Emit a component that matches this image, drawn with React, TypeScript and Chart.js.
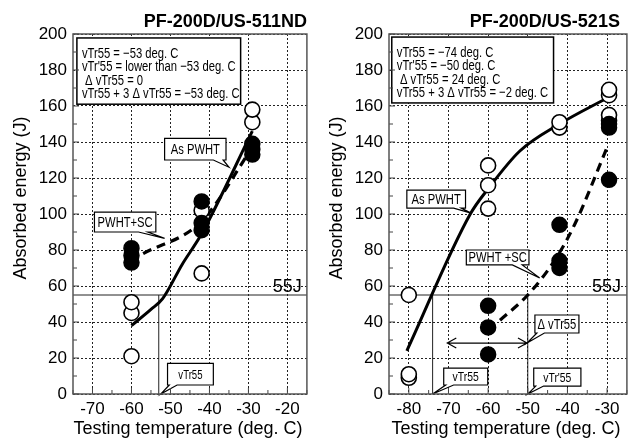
import React, { useEffect, useRef } from "react";
import { Chart, registerables } from "chart.js";

Chart.register(...registerables);

const FONT = '"Liberation Sans", Arial, Helvetica, sans-serif';

// ---------- shared axis values ----------
const yTicks = [0, 20, 40, 60, 80, 100, 120, 140, 160, 180, 200];
const yRange = [0, 200];
const criterionEnergy = 55;

// ---------- Left panel: PF-200D/US-511ND ----------
const leftTitle = "PF-200D/US-511ND";
const leftXRange = [-75, -15];
const leftXTicks = [-70, -60, -50, -40, -30, -20];
const leftOpenT = [-60, -60, -60, -42, -42, -29, -29];
const leftOpenE = [21, 45, 51, 67, 102, 151, 158];
const leftFilledT = [-60, -60, -60, -42, -42, -42, -29, -29, -29];
const leftFilledE = [73, 77, 81, 91, 95, 107, 133, 136, 139];
const leftSolidT = [-60, -55, -52, -47, -42, -29];
const leftSolidE = [38, 47, 53, 72, 89, 146];
const leftDashT = [-57, -42, -29];
const leftDashE = [78, 96, 137];
const leftVTr = [-53];
const leftInfo = [
  "vTr55 = \u221253 deg. C",
  "vTr'55 = lower than \u221253 deg. C",
  " \u0394 vTr55 = 0",
  "vTr55 + 3 \u0394 vTr55 = \u221253 deg. C",
];
// annotation anchors in data units (temperature, energy)
const leftInfoBox = [-74, -32, 197.8, 161];
const leftCallouts = [
  { text: "As PWHT", box: [-51.5, -35.75, 142, 130], tail: [-39, -36.5], tip: [-35, 126], size: 14 },
  { text: "PWHT+SC", box: [-69.5, -53.75, 101, 90], tail: [-58.2, -55.8], tip: [-51.5, 86.5], size: 14 },
  { text: "vTr55", box: [-50.75, -39, 17, 5], tail: [-50.3, -48.3], tip: [-52.5, 0], size: 12 },
];
const leftLabel55 = -16.3;

// ---------- Right panel: PF-200D/US-521S ----------
const rightTitle = "PF-200D/US-521S";
const rightXRange = [-85, -25];
const rightXTicks = [-80, -70, -60, -50, -40, -30];
const rightOpenT = [-80, -80, -80, -60, -60, -60, -42, -42, -29.5, -29.5, -29.5, -29.5];
const rightOpenE = [9, 11, 55, 103, 116, 127, 148, 151, 152, 155, 166, 169];
const rightFilledT = [-60, -60, -60, -42, -42, -42, -29.5, -29.5, -29.5];
const rightFilledE = [22, 37, 49, 70, 74, 94, 119, 148, 150];
const rightSolidT = [-80.5, -64.5, -60, -52, -42, -29.5];
const rightSolidE = [24, 100, 114, 135, 150, 165];
const rightDashT = [-57, -50, -43, -38, -30];
const rightDashE = [41, 55, 75, 95, 137];
const rightVTr = [-74, -50];
const rightInfo = [
  "vTr55 = \u221274 deg. C",
  "vTr'55 = \u221250 deg. C",
  " \u0394 vTr55 = 24 deg. C",
  "vTr55 + 3 \u0394 vTr55 = \u22122 deg. C",
];
const rightInfoBox = [-84.3, -43.5, 198.3, 161.7];
const rightCallouts = [
  { text: "As PWHT", box: [-80.5, -65.7, 113.3, 103.3], tail: [-68.7, -66.8], tip: [-64.3, 100.5], size: 14 },
  { text: "PWHT +SC", box: [-65.5, -49.7, 80, 71.7], tail: [-53.9, -51.4], tip: [-47, 64.4], size: 14 },
  { text: "\u0394 vTr55", box: [-48.2, -37.1, 43.9, 33.9], tail: [-47.7, -45.8], tip: [-50.2, 28.3], size: 14 },
  { text: "vTr55", box: [-71.2, -60.1, 14.4, 5], tail: [-70.7, -68.7], tip: [-74, 0], size: 13 },
  { text: "vTr'55", box: [-48.5, -36.6, 14.4, 4.4], tail: [-48, -46], tip: [-50, 0], size: 13 },
];
const rightArrow = { from: -70.3, to: -50.2, at: 28.3 };
const rightLabel55 = -26.5;

type Panel = {
  title: string;
  titlePad: number;
  xRange: number[];
  xTicks: number[];
  openT: number[];
  openE: number[];
  filledT: number[];
  filledE: number[];
  solidT: number[];
  solidE: number[];
  dashT: number[];
  dashE: number[];
  vtr: number[];
  info: string[];
  infoBox: number[];
  callouts: any[];
  arrow?: { from: number; to: number; at: number };
  label55: number;
  padRight: number;
};

const panels: Panel[] = [
  {
    title: leftTitle, titlePad: 0, xRange: leftXRange, xTicks: leftXTicks,
    openT: leftOpenT, openE: leftOpenE, filledT: leftFilledT, filledE: leftFilledE,
    solidT: leftSolidT, solidE: leftSolidE, dashT: leftDashT, dashE: leftDashE,
    vtr: leftVTr, info: leftInfo, infoBox: leftInfoBox, callouts: leftCallouts,
    label55: leftLabel55, padRight: 3,
  },
  {
    title: rightTitle, titlePad: 7, xRange: rightXRange, xTicks: rightXTicks,
    openT: rightOpenT, openE: rightOpenE, filledT: rightFilledT, filledE: rightFilledE,
    solidT: rightSolidT, solidE: rightSolidE, dashT: rightDashT, dashE: rightDashE,
    vtr: rightVTr, info: rightInfo, infoBox: rightInfoBox, callouts: rightCallouts,
    arrow: rightArrow, label55: rightLabel55, padRight: 4,
  },
];

const zip = (xs: number[], ys: number[]) => xs.map((x, i) => ({ x, y: ys[i] }));

function narrowText(ctx: CanvasRenderingContext2D, text: string, x: number, y: number, size: number, sx: number, align: CanvasTextAlign, baseline: CanvasTextBaseline = "alphabetic") {
  ctx.save();
  ctx.translate(x, y);
  ctx.scale(sx, 1);
  ctx.font = `${size}px ${FONT}`;
  ctx.textAlign = align;
  ctx.textBaseline = baseline;
  ctx.fillStyle = "#000";
  ctx.fillText(text, 0, 0);
  ctx.restore();
}

function makeDecor(p: Panel) {
  return {
    id: "panelDecor",
    beforeDatasetsDraw(chart: any) {
      const { ctx, chartArea: a, scales } = chart;
      const X = (v: number) => scales.x.getPixelForValue(v);
      const Y = (v: number) => scales.y.getPixelForValue(v);
      ctx.save();
      ctx.strokeStyle = "#222";
      ctx.lineWidth = 1;
      const y55 = Y(criterionEnergy);
      ctx.beginPath();
      ctx.moveTo(a.left, y55);
      ctx.lineTo(a.right, y55);
      for (const v of p.vtr) {
        ctx.moveTo(X(v), y55);
        ctx.lineTo(X(v), a.bottom);
      }
      ctx.stroke();
      ctx.restore();
    },
    afterDatasetsDraw(chart: any) {
      const { ctx, chartArea: a, scales } = chart;
      const X = (v: number) => scales.x.getPixelForValue(v);
      const Y = (v: number) => scales.y.getPixelForValue(v);
      ctx.save();
      // 55J label
      ctx.font = `18px ${FONT}`;
      ctx.fillStyle = "#000";
      ctx.textAlign = "right";
      ctx.textBaseline = "alphabetic";
      ctx.fillText("55J", X(p.label55), Y(criterionEnergy) - 3);

      // arrow
      if (p.arrow) {
        const x0 = X(p.arrow.from), x1 = X(p.arrow.to), yy = Y(p.arrow.at);
        ctx.strokeStyle = "#000";
        ctx.lineWidth = 1.2;
        ctx.beginPath();
        ctx.moveTo(x0, yy); ctx.lineTo(x1, yy);
        ctx.moveTo(x0 + 9, yy - 5); ctx.lineTo(x0, yy); ctx.lineTo(x0 + 9, yy + 5);
        ctx.moveTo(x1 - 9, yy - 5); ctx.lineTo(x1, yy); ctx.lineTo(x1 - 9, yy + 5);
        ctx.stroke();
      }

      // callouts
      for (const c of p.callouts) {
        const x0 = X(c.box[0]), x1 = X(c.box[1]), y0 = Y(c.box[2]), y1 = Y(c.box[3]);
        const ta = X(c.tail[0]), tb = X(c.tail[1]);
        const tx = X(c.tip[0]), ty = Y(c.tip[1]);
        ctx.beginPath();
        ctx.moveTo(x0, y0);
        ctx.lineTo(x1, y0);
        ctx.lineTo(x1, y1);
        ctx.lineTo(tb, y1);
        ctx.lineTo(tx, ty);
        ctx.lineTo(ta, y1);
        ctx.lineTo(x0, y1);
        ctx.closePath();
        ctx.fillStyle = "#fff";
        ctx.fill();
        ctx.strokeStyle = "#000";
        ctx.lineWidth = 1.2;
        ctx.stroke();
        narrowText(ctx, c.text, (x0 + x1) / 2, (y0 + y1) / 2 + 1, c.size, 0.8, "center", "middle");
      }

      // info box
      const bx0 = X(p.infoBox[0]), bx1 = X(p.infoBox[1]);
      const by0 = Y(p.infoBox[2]), by1 = Y(p.infoBox[3]);
      ctx.fillStyle = "#fff";
      ctx.fillRect(bx0, by0, bx1 - bx0, by1 - by0);
      ctx.strokeStyle = "#000";
      ctx.lineWidth = 1.5;
      ctx.strokeRect(bx0, by0, bx1 - bx0, by1 - by0);
      p.info.forEach((t, i) => {
        narrowText(ctx, t, bx0 + 5, by0 + 20 + i * 13.3, 15, 0.75, "left");
      });
      ctx.restore();
    },
    afterDraw(chart: any) {
      const { ctx, chartArea: a, scales } = chart;
      const X = (v: number) => scales.x.getPixelForValue(v);
      const Y = (v: number) => scales.y.getPixelForValue(v);
      ctx.save();
      // minor / major inner ticks
      ctx.strokeStyle = "#444";
      ctx.lineWidth = 1;
      ctx.beginPath();
      for (let v = Math.ceil(p.xRange[0] / 5) * 5; v <= p.xRange[1]; v += 5) {
        const px = X(v);
        const len = v % 10 === 0 ? 6 : 4;
        ctx.moveTo(px, a.bottom);
        ctx.lineTo(px, a.bottom - len);
      }
      for (let v = yRange[0]; v <= yRange[1]; v += 10) {
        const py = Y(v);
        const len = v % 20 === 0 ? 6 : 4;
        ctx.moveTo(a.left, py);
        ctx.lineTo(a.left + len, py);
      }
      ctx.stroke();
      // frame
      ctx.strokeStyle = "#555";
      ctx.lineWidth = 1.5;
      ctx.strokeRect(a.left, a.top, a.right - a.left, a.bottom - a.top);
      // title
      ctx.fillStyle = "#000";
      ctx.font = `bold 18px ${FONT}`;
      ctx.textAlign = "right";
      ctx.textBaseline = "alphabetic";
      ctx.fillText(p.title, a.right - p.titlePad, 27);
      // x title
      ctx.font = `18px ${FONT}`;
      ctx.textAlign = "center";
      ctx.fillText("Testing temperature (deg. C)", (a.left + a.right) / 2 - 2, 434);
      // y title
      ctx.save();
      ctx.translate(26, 198);
      ctx.rotate(-Math.PI / 2);
      ctx.textAlign = "center";
      ctx.fillText("Absorbed energy (J)", 0, 0);
      ctx.restore();
      ctx.restore();
    },
  };
}

function buildChart(canvas: HTMLCanvasElement, p: Panel) {
  return new Chart(canvas, {
    type: "scatter",
    data: {
      datasets: [
        {
          data: zip(p.filledT, p.filledE),
          pointRadius: 7.5,
          pointBackgroundColor: "#000",
          pointBorderColor: "#000",
          pointBorderWidth: 1.5,
          order: 0,
        },
        {
          data: zip(p.openT, p.openE),
          pointRadius: 7.5,
          pointBackgroundColor: "#fff",
          pointBorderColor: "#000",
          pointBorderWidth: 1.6,
          order: 1,
        },
        {
          data: zip(p.solidT, p.solidE),
          showLine: true,
          pointRadius: 0,
          borderColor: "#000",
          borderWidth: 3,
          cubicInterpolationMode: "monotone",
          order: 2,
        },
        {
          data: zip(p.dashT, p.dashE),
          showLine: true,
          pointRadius: 0,
          borderColor: "#000",
          borderWidth: 3.2,
          borderDash: [9, 6],
          cubicInterpolationMode: "monotone",
          order: 3,
        },
      ] as any,
    },
    options: {
      responsive: false,
      animation: false,
      events: [],
      layout: { padding: { top: 34, right: p.padRight, left: 0, bottom: 0 } },
      plugins: { legend: { display: false }, tooltip: { enabled: false } },
      scales: {
        x: {
          type: "linear",
          min: p.xRange[0],
          max: p.xRange[1],
          afterBuildTicks: (s: any) => {
            s.ticks = p.xTicks.map((v) => ({ value: v }));
          },
          afterFit: (s: any) => {
            s.height = 46;
          },
          ticks: {
            color: "#000",
            font: { family: FONT, size: 17 },
            padding: 5,
            maxRotation: 0,
            autoSkip: false,
          },
          grid: { color: "#222", lineWidth: 1, drawTicks: false },
          border: { display: false, dash: [2, 2] },
        },
        y: {
          type: "linear",
          min: yRange[0],
          max: yRange[1],
          afterBuildTicks: (s: any) => {
            s.ticks = yTicks.map((v) => ({ value: v }));
          },
          afterFit: (s: any) => {
            s.width = 73;
          },
          ticks: {
            color: "#000",
            font: { family: FONT, size: 17 },
            padding: 6,
            autoSkip: false,
          },
          grid: { color: "#222", lineWidth: 1, drawTicks: false },
          border: { display: false, dash: [2, 2] },
        },
      },
    } as any,
    plugins: [makeDecor(p)],
  });
}

export default function App() {
  const leftRef = useRef<HTMLCanvasElement>(null);
  const rightRef = useRef<HTMLCanvasElement>(null);
  useEffect(() => {
    const c1 = buildChart(leftRef.current!, panels[0]);
    const c2 = buildChart(rightRef.current!, panels[1]);
    return () => {
      c1.destroy();
      c2.destroy();
    };
  }, []);
  return (
    <div style={{ position: "fixed", left: 0, top: 0, width: 629, height: 440, overflow: "hidden", background: "#fff" }}>
      <canvas ref={leftRef} width={316} height={440} style={{ position: "absolute", left: 0, top: 0 }} />
      <canvas ref={rightRef} width={320} height={440} style={{ position: "absolute", left: 316, top: 0 }} />
    </div>
  );
}
